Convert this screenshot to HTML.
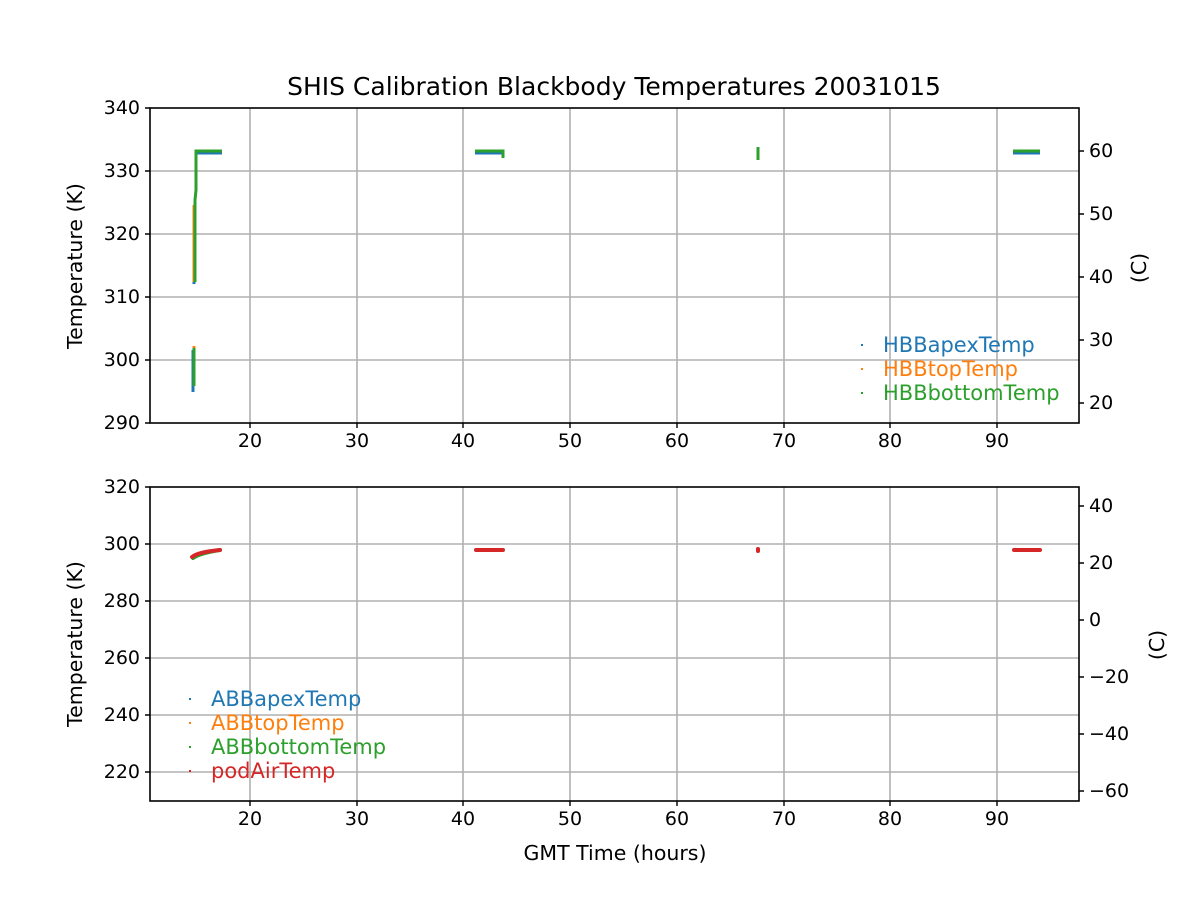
<!DOCTYPE html>
<html><head><meta charset="utf-8"><style>body{margin:0;background:#fff}svg{display:block}text{font-family:"DejaVu Sans","Liberation Sans",sans-serif;fill:#000}</style></head><body>
<svg width="1200" height="900" viewBox="0 0 1200 900" xmlns="http://www.w3.org/2000/svg">
<rect width="1200" height="900" fill="#fff"/>
<text x="614" y="95" font-size="25" text-anchor="middle">SHIS Calibration Blackbody Temperatures 20031015</text>
<g stroke="#b0b0b0" stroke-width="1.6">
<line x1="250" y1="108" x2="250" y2="423"/><line x1="357" y1="108" x2="357" y2="423"/><line x1="463" y1="108" x2="463" y2="423"/><line x1="570" y1="108" x2="570" y2="423"/><line x1="677" y1="108" x2="677" y2="423"/><line x1="784" y1="108" x2="784" y2="423"/><line x1="890" y1="108" x2="890" y2="423"/><line x1="997" y1="108" x2="997" y2="423"/>
<line x1="150" y1="171" x2="1079" y2="171"/><line x1="150" y1="234" x2="1079" y2="234"/><line x1="150" y1="297" x2="1079" y2="297"/><line x1="150" y1="360" x2="1079" y2="360"/>
<line x1="250" y1="487" x2="250" y2="801"/><line x1="357" y1="487" x2="357" y2="801"/><line x1="463" y1="487" x2="463" y2="801"/><line x1="570" y1="487" x2="570" y2="801"/><line x1="677" y1="487" x2="677" y2="801"/><line x1="784" y1="487" x2="784" y2="801"/><line x1="890" y1="487" x2="890" y2="801"/><line x1="997" y1="487" x2="997" y2="801"/>
<line x1="150" y1="544" x2="1079" y2="544"/><line x1="150" y1="601" x2="1079" y2="601"/><line x1="150" y1="658" x2="1079" y2="658"/><line x1="150" y1="715" x2="1079" y2="715"/><line x1="150" y1="772" x2="1079" y2="772"/>
</g>
<g fill="none" stroke-width="3">
<path d="M193 392 V350 M194 284 V210" stroke="#1f77b4"/>
<path d="M194 346 V386 M194 282 V205" stroke="#ff7f0e"/>
<path d="M196 153 H222 M475 153 H503 M1013 153 H1040" stroke="#1f77b4"/>
<path d="M194 386 V348 M195 282 V200 L196 190 V151 H222 M475 151 H503 V158 M758 147 V160 M1013 151 H1040" stroke="#2ca02c"/>
</g>
<g fill="none" stroke-width="4" stroke-linecap="round">
<path d="M193 558 Q200 553 220 550" stroke="#2ca02c"/>
<path d="M192 557 Q198 552 220 550 M476 550 H503 M758 549 V551 M1014 550 H1040" stroke="#d62728"/>
</g>
<rect x="150" y="108" width="929" height="315" fill="none" stroke="#000" stroke-width="1.6"/>
<rect x="150" y="487" width="929" height="314" fill="none" stroke="#000" stroke-width="1.6"/>
<g stroke="#000" stroke-width="1.4">
<path d="M250 423v5M357 423v5M463 423v5M570 423v5M677 423v5M784 423v5M890 423v5M997 423v5"/>
<path d="M250 801v5M357 801v5M463 801v5M570 801v5M677 801v5M784 801v5M890 801v5M997 801v5"/>
<path d="M150 108h-5M150 171h-5M150 234h-5M150 297h-5M150 360h-5M150 423h-5"/>
<path d="M150 487h-5M150 544h-5M150 601h-5M150 658h-5M150 715h-5M150 772h-5"/>
<path d="M1079 151h5M1079 214h5M1079 277h5M1079 340h5M1079 403h5"/>
<path d="M1079 506h5M1079 563h5M1079 620h5M1079 677h5M1079 734h5M1079 791h5"/>
</g>
<g font-size="19" text-anchor="middle">
<text x="250" y="447">20</text><text x="357" y="447">30</text><text x="463" y="447">40</text><text x="570" y="447">50</text><text x="677" y="447">60</text><text x="784" y="447">70</text><text x="890" y="447">80</text><text x="997" y="447">90</text>
<text x="250" y="825">20</text><text x="357" y="825">30</text><text x="463" y="825">40</text><text x="570" y="825">50</text><text x="677" y="825">60</text><text x="784" y="825">70</text><text x="890" y="825">80</text><text x="997" y="825">90</text>
</g>
<g font-size="19" text-anchor="end">
<text x="140" y="114">340</text><text x="140" y="177">330</text><text x="140" y="240">320</text><text x="140" y="303">310</text><text x="140" y="366">300</text><text x="140" y="429">290</text>
<text x="140" y="493">320</text><text x="140" y="550">300</text><text x="140" y="607">280</text><text x="140" y="664">260</text><text x="140" y="721">240</text><text x="140" y="778">220</text>
</g>
<g font-size="19">
<text x="1089" y="157">60</text><text x="1089" y="220">50</text><text x="1089" y="283">40</text><text x="1089" y="346">30</text><text x="1089" y="409">20</text>
<text x="1089" y="512">40</text><text x="1089" y="569">20</text><text x="1089" y="626">0</text><text x="1089" y="683">−20</text><text x="1089" y="740">−40</text><text x="1089" y="797">−60</text>
</g>
<text x="615" y="860" font-size="20.5" text-anchor="middle">GMT Time (hours)</text>
<text transform="translate(82,266) rotate(-90)" font-size="20.5" text-anchor="middle">Temperature (K)</text>
<text transform="translate(82,644) rotate(-90)" font-size="20.5" text-anchor="middle">Temperature (K)</text>
<text transform="translate(1146,268) rotate(-90)" font-size="20.5" text-anchor="middle">(C)</text>
<text transform="translate(1164,645) rotate(-90)" font-size="20.5" text-anchor="middle">(C)</text>
<g font-size="21">
<rect x="861" y="344" width="2" height="2" fill="#1f77b4"/><text x="883" y="352" style="fill:#1f77b4">HBBapexTemp</text>
<rect x="861" y="368" width="2" height="2" fill="#ff7f0e"/><text x="883" y="376" style="fill:#ff7f0e">HBBtopTemp</text>
<rect x="861" y="392" width="2" height="2" fill="#2ca02c"/><text x="883" y="400" style="fill:#2ca02c">HBBbottomTemp</text>
<rect x="189" y="698" width="2" height="2" fill="#1f77b4"/><text x="211" y="706" style="fill:#1f77b4">ABBapexTemp</text>
<rect x="189" y="722" width="2" height="2" fill="#ff7f0e"/><text x="211" y="730" style="fill:#ff7f0e">ABBtopTemp</text>
<rect x="189" y="746" width="2" height="2" fill="#2ca02c"/><text x="211" y="754" style="fill:#2ca02c">ABBbottomTemp</text>
<rect x="189" y="770" width="2" height="2" fill="#d62728"/><text x="211" y="778" style="fill:#d62728">podAirTemp</text>
</g>
</svg>
</body></html>
